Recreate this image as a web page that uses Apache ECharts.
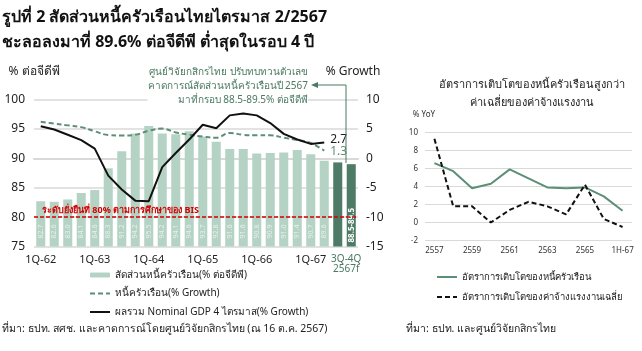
<!DOCTYPE html>
<html>
<head>
<meta charset="utf-8">
<script src="https://cdn.jsdelivr.net/npm/echarts@6/dist/echarts.min.js"></script>
<style>
  html, body { margin: 0; padding: 0; background: #fff; }
  #main { width: 642px; height: 351px; }
</style>
</head>
<body>
<div id="main"></div>
<script>
// ไตรมาส 1Q-62 ถึง 2Q-67 และช่วงคาดการณ์ 3Q-4Q 2567
var quarters = ['1Q-62', '2Q-62', '3Q-62', '4Q-62', '1Q-63', '2Q-63', '3Q-63', '4Q-63',
  '1Q-64', '2Q-64', '3Q-64', '4Q-64', '1Q-65', '2Q-65', '3Q-65', '4Q-65',
  '1Q-66', '2Q-66', '3Q-66', '4Q-66', '1Q-67', '2Q-67', '3Q-67f', '4Q-67f'];
var debtToGdp = [82.7, 82.6, 83.0, 84.1, 84.6, 88.3, 91.2, 94.2, 95.5, 94.2, 94.1, 94.6,
  93.7, 92.8, 91.6, 91.6, 90.8, 90.9, 91.0, 91.4, 90.7, 89.6];
var debtForecast = [89.3, 89.0];
var forecastText = ['', '88.5-89.5'];
var debtGrowth = [6.2, 5.9, 5.6, 5.3, 4.6, 3.95, 3.87, 4.0, 4.7, 5.05, 4.4, 4.0,
  3.7, 3.5, 4.3, 4.0, 3.9, 3.9, 3.5, 3.1, 2.6, 1.3];
var gdpGrowth = [5.45, 4.9, 4.0, 3.1, 1.65, -2.95, -5.3, -7.2, -7.3, -1.5, 0.9, 3.2,
  5.7, 5.1, 7.3, 7.6, 7.3, 6.0, 4.15, 3.2, 2.45, 2.7];

// กราฟขวา รายปี
var years = ['2557', '2558', '2559', '2560', '2561', '2562', '2563', '2564', '2565', '2566', '1H-67'];
var hhDebtYoY = [6.6, 5.7, 3.8, 4.3, 5.9, 4.9, 3.9, 3.8, 3.9, 2.9, 1.3];
var wageYoY = [9.3, 1.8, 1.8, 0.0, 1.4, 2.3, 1.8, 0.9, 4.2, 0.4, -0.5];

var GREEN = '#5d8e76';
var DARK = '#4d7b65';
var LIGHT = '#b5d3c5';
var TXT = '#4a7a62';
var RED = '#d40000';
var GRID = '#d9d9d9';
var FONT = 'Noto Sans, sans-serif';

var NAME_BAR = 'สัดส่วนหนี้ครัวเรือน(% ต่อจีดีพี)';
var NAME_DEBT = 'หนี้ครัวเรือน(% Growth)';
var NAME_GDP = 'ผลรวม Nominal GDP 4 ไตรมาส(% Growth)';
var NAME_HH = 'อัตราการเติบโตของหนี้ครัวเรือน';
var NAME_WAGE = 'อัตราการเติบโตของค่าจ้างแรงงานเฉลี่ย';

var barData = debtToGdp.map(function (v) { return v; });
debtForecast.forEach(function (v, i) {
  barData.push({
    value: v,
    itemStyle: { color: DARK },
    label: {
      show: forecastText[i] !== '',
      formatter: forecastText[i],
      color: '#fff',
      fontWeight: 'bold',
      fontSize: 8,
      distance: 4
    }
  });
});

// ไอคอนเส้นใน legend ไม่ต้องมีจุด
function lineItem(name) {
  return { name: name, itemStyle: { opacity: 0 } };
}

var chart = echarts.init(document.getElementById('main'));

var option = {
  backgroundColor: '#fff',
  animation: false,
  textStyle: { fontFamily: FONT },
  title: [{
    text: 'รูปที่ 2 สัดส่วนหนี้ครัวเรือนไทยไตรมาส 2/2567\nชะลอลงมาที่ 89.6% ต่อจีดีพี ต่ำสุดในรอบ 4 ปี',
    left: 2,
    top: 5,
    padding: 0,
    textStyle: { fontSize: 16, fontWeight: 'bold', lineHeight: 25, color: '#111', fontFamily: FONT }
  }, {
    text: 'อัตราการเติบโตของหนี้ครัวเรือนสูงกว่า\nค่าเฉลี่ยของค่าจ้างแรงงาน',
    left: 532,
    textAlign: 'center',
    top: 76,
    padding: 0,
    textStyle: { fontSize: 11, fontWeight: 'normal', lineHeight: 18, color: '#222', fontFamily: FONT }
  }, {
    text: 'ที่มา: ธปท. สศช. และคาดการณ์โดยศูนย์วิจัยกสิกรไทย (ณ 16 ต.ค. 2567)',
    left: 2,
    top: 324,
    padding: 0,
    textStyle: { fontSize: 10.5, fontWeight: 'normal', color: '#222', fontFamily: FONT }
  }, {
    text: 'ที่มา: ธปท. และศูนย์วิจัยกสิกรไทย',
    left: 406,
    top: 324,
    padding: 0,
    textStyle: { fontSize: 10.5, fontWeight: 'normal', color: '#222', fontFamily: FONT }
  }],
  legend: [{
    orient: 'vertical',
    left: 89,
    top: 268,
    padding: 0,
    itemWidth: 20,
    itemHeight: 5,
    itemGap: 4.5,
    textStyle: { fontSize: 10, color: '#222', lineHeight: 14 },
    data: [NAME_BAR, lineItem(NAME_DEBT), lineItem(NAME_GDP)]
  }, {
    orient: 'vertical',
    left: 436,
    top: 270,
    padding: 0,
    itemWidth: 20,
    itemHeight: 5,
    itemGap: 6,
    textStyle: { fontSize: 9.5, color: '#222', lineHeight: 14 },
    data: [lineItem(NAME_HH), lineItem(NAME_WAGE)]
  }],
  grid: [
    { left: 34, top: 99.5, width: 324, height: 147 },
    { left: 425, top: 132.5, width: 207, height: 108 }
  ],
  xAxis: [{
    type: 'category',
    gridIndex: 0,
    data: quarters,
    axisTick: { show: false },
    axisLine: { lineStyle: { color: GRID, width: 2 } },
    axisLabel: {
      color: '#222',
      fontSize: 11,
      margin: 8,
      interval: function (i) { return (i % 4 === 0 && i < 22) || i === 23; },
      formatter: function (v, i) {
        if (i === 23) return '{f|3Q-4Q}\n{f|2567f}';
        return v;
      },
      rich: {
        f: { color: TXT, fontSize: 10, lineHeight: 10, padding: [0, 10, 0, 0] }
      }
    }
  }, {
    type: 'category',
    gridIndex: 1,
    data: years,
    boundaryGap: true,
    axisTick: { show: false },
    axisLine: { show: false },
    axisLabel: { color: '#333', fontSize: 8, margin: 6, interval: 1 }
  }],
  yAxis: [{
    type: 'value',
    gridIndex: 0,
    min: 75,
    max: 100,
    interval: 5,
    name: '% ต่อจีดีพี',
    nameLocation: 'end',
    nameGap: 22,
    nameTextStyle: { fontSize: 12, color: '#222', align: 'center' },
    axisLine: { show: false },
    axisTick: { show: false },
    axisLabel: { color: '#222', fontSize: 12, margin: 9 },
    splitLine: { lineStyle: { color: GRID, width: 1.5 } }
  }, {
    type: 'value',
    gridIndex: 0,
    position: 'right',
    min: -15,
    max: 10,
    interval: 5,
    name: '% Growth',
    nameLocation: 'end',
    nameGap: 22,
    nameTextStyle: { fontSize: 12, color: '#222', align: 'center', padding: [0, 10, 0, 0] },
    axisLine: { show: false },
    axisTick: { show: false },
    axisLabel: { color: '#222', fontSize: 12, margin: 8 },
    splitLine: { show: false }
  }, {
    type: 'value',
    gridIndex: 1,
    min: -2,
    max: 10,
    interval: 2,
    name: '% YoY',
    nameLocation: 'end',
    nameGap: 14,
    nameTextStyle: { fontSize: 8, color: '#333', align: 'right', padding: [0, -10, 0, 0] },
    axisLine: { show: false },
    axisTick: { show: false },
    axisLabel: { color: '#333', fontSize: 8, margin: 7 },
    splitLine: { lineStyle: { color: GRID, width: 1 } }
  }],
  series: [{
    name: NAME_BAR,
    type: 'bar',
    xAxisIndex: 0,
    yAxisIndex: 0,
    barCategoryGap: '33%',
    itemStyle: { color: LIGHT },
    label: {
      show: true,
      position: 'insideBottom',
      rotate: 90,
      align: 'left',
      verticalAlign: 'middle',
      distance: 8,
      fontSize: 7,
      color: '#e9f0ec',
      formatter: function (p) { return p.value.toFixed(1); }
    },
    data: barData,
    markLine: {
      silent: true,
      symbol: ['none', 'none'],
      lineStyle: { color: RED, type: [4, 2], width: 1.5 },
      label: {
        show: true,
        position: 'insideStartTop',
        formatter: 'ระดับยั่งยืนที่ 80% ตามการศึกษาของ BIS',
        color: RED,
        fontSize: 9,
        fontWeight: 'bold',
        distance: [8, 2]
      },
      data: [{ yAxis: 80 }]
    }
  }, {
    name: NAME_DEBT,
    type: 'line',
    xAxisIndex: 0,
    yAxisIndex: 1,
    smooth: 0.4,
    symbol: 'none',
    lineStyle: { color: GREEN, width: 2, type: [5, 3] },
    itemStyle: { color: GREEN },
    endLabel: {
      show: true,
      color: GREEN,
      fontSize: 12,
      distance: 6,
      offset: [0, 1],
      formatter: function (p) { return p.value.toFixed(1); }
    },
    data: debtGrowth
  }, {
    name: NAME_GDP,
    type: 'line',
    xAxisIndex: 0,
    yAxisIndex: 1,
    symbol: 'none',
    lineStyle: { color: '#111', width: 2 },
    itemStyle: { color: '#111' },
    endLabel: {
      show: true,
      color: '#222',
      fontSize: 12,
      distance: 6,
      offset: [0, -3],
      formatter: function (p) { return p.value.toFixed(1); }
    },
    data: gdpGrowth
  }, {
    name: NAME_HH,
    type: 'line',
    xAxisIndex: 1,
    yAxisIndex: 2,
    symbol: 'none',
    lineStyle: { color: GREEN, width: 2 },
    itemStyle: { color: GREEN },
    data: hhDebtYoY
  }, {
    name: NAME_WAGE,
    type: 'line',
    xAxisIndex: 1,
    yAxisIndex: 2,
    symbol: 'none',
    lineStyle: { color: '#111', width: 2, type: [5, 3] },
    itemStyle: { color: '#111' },
    data: wageYoY
  }],
  graphic: [{
    type: 'text',
    z: 100,
    x: 308,
    y: 65,
    style: {
      text: 'ศูนย์วิจัยกสิกรไทย ปรับทบทวนตัวเลข\nคาดการณ์สัดส่วนหนี้ครัวเรือนปี 2567\nมาที่กรอบ 88.5-89.5% ต่อจีดีพี',
      align: 'right',
      verticalAlign: 'top',
      fontSize: 10,
      lineHeight: 14,
      fontFamily: FONT,
      fill: TXT,
      backgroundColor: '#fff'
    }
  }, {
    type: 'polyline',
    z: 100,
    shape: { points: [[316, 85], [346, 85], [346, 163]] },
    style: { stroke: TXT, lineWidth: 1, fill: null }
  }, {
    type: 'polygon',
    z: 100,
    shape: { points: [[311, 85], [318, 82], [318, 88]] },
    style: { fill: TXT }
  }]
};

chart.setOption(option);
</script>
</body>
</html>
